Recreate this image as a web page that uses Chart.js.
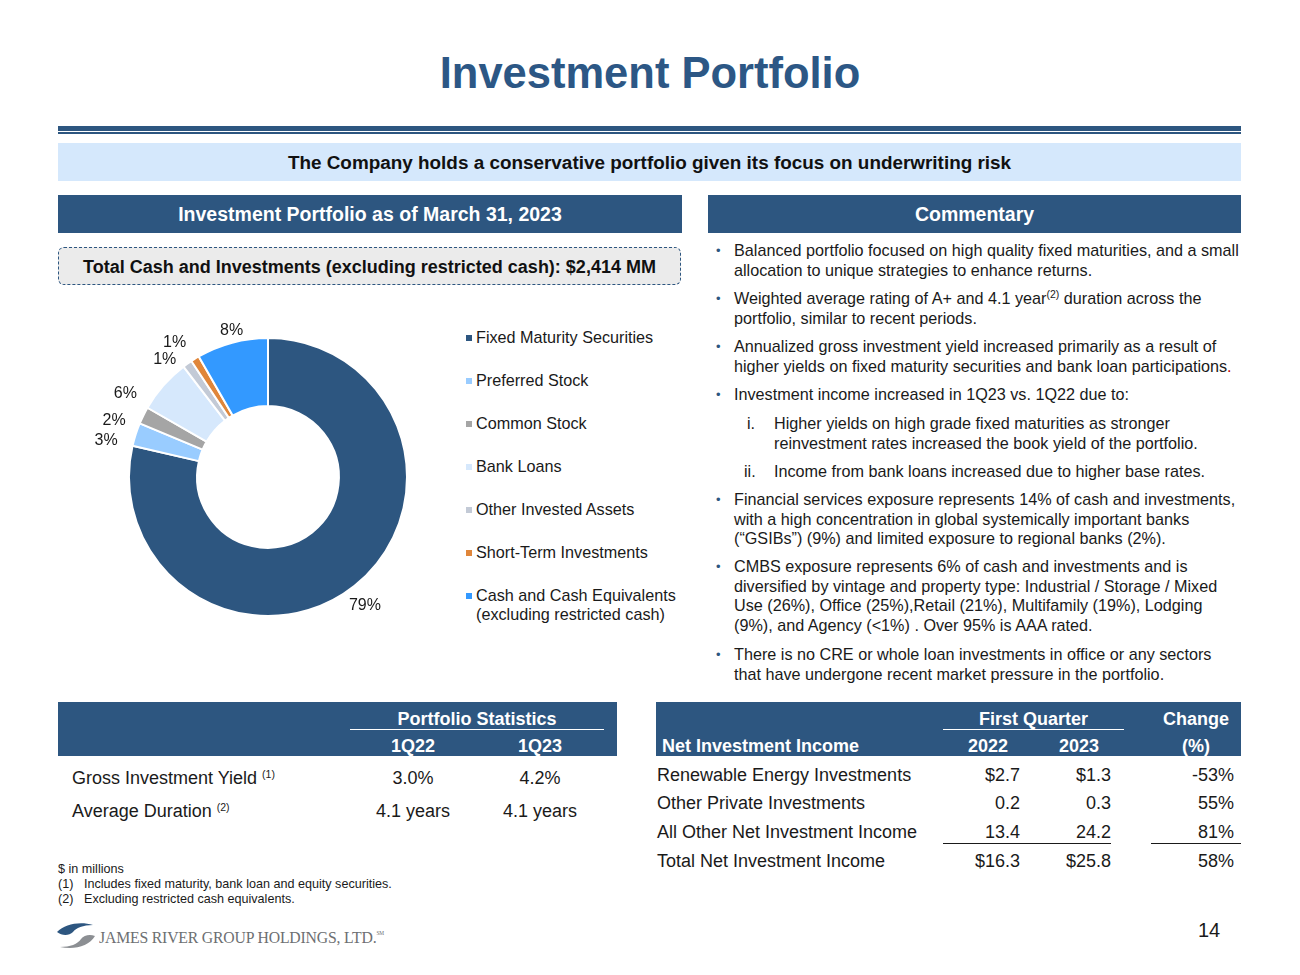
<!DOCTYPE html>
<html>
<head>
<meta charset="utf-8">
<title>Investment Portfolio</title>
<script src="https://cdn.jsdelivr.net/npm/chart.js@4.4.1/dist/chart.umd.min.js"></script>
<style>
    html, body { margin: 0; padding: 0; background: #fff; }
    body { width: 1300px; height: 975px; position: relative; overflow: hidden;
           font-family: "Liberation Sans", Arial, sans-serif; color: #1a1a1a; }
    .abs { position: absolute; white-space: nowrap; }
    .title { left: 0; width: 1300px; top: 48px; line-height: 50px; text-align: center;
             font-size: 43.5px; font-weight: bold; color: #2c5785; }
    .rule-thick { left: 58px; width: 1183px; top: 126px; height: 5px; background: #2d5680; }
    .rule-thin { left: 58px; width: 1183px; top: 132px; height: 2px; background: #2d5680; }
    .banner { left: 58px; width: 1183px; top: 143px; height: 38px; line-height: 40px; background: #d5e8fc;
              text-align: center; font-size: 18.9px; font-weight: bold; color: #111; }
    .hdr { top: 195px; height: 38px; line-height: 38px; background: #2d5680; color: #fff;
           text-align: center; font-size: 19.5px; font-weight: bold; }
    .totalbox { left: 58px; width: 621px; top: 247px; height: 36px; line-height: 38px; background: #ebebeb;
                border: 1.5px dashed #2d5680; border-radius: 6px; text-align: center;
                font-size: 18px; font-weight: bold; color: #111; }
    #chartWrap { position: absolute; left: 78px; top: 287px; width: 380px; height: 380px; }
    .legend { left: 466px; top: 328px; font-size: 16.2px; line-height: 19px; }
    .legend .item { position: relative; height: 43px; padding-left: 10px; }
    .legend .sw { position: absolute; left: 0; top: 7px; width: 6px; height: 6px; }
    .para { left: 716px; font-size: 16.2px; line-height: 19.5px; }
    .para .bul { position: absolute; left: 0; top: 0; color: #2d5680; font-size: 13px; }
    .para .txt { position: absolute; left: 18px; top: 0; }
    .para .num { position: absolute; top: 0; }
    sup { font-size: 10.5px; line-height: 0; vertical-align: 6px; }
    .tblhdr { top: 702px; height: 54px; background: #2d5680; }
    .wh { color: #fff; font-weight: bold; font-size: 18px; line-height: 20px; }
    .cell { font-size: 18px; line-height: 20px; }
    .uline { height: 1px; }
    .foot { font-size: 12.6px; line-height: 15px; }
    .logo-text { left: 99px; top: 926px; font-family: "Liberation Serif", "DejaVu Serif", serif;
                 font-size: 17.5px; line-height: 22px; color: #6d6f72; letter-spacing: -0.2px;
                 transform: scaleX(0.9); transform-origin: 0 0; }
    .pageno { left: 1198px; top: 918px; font-size: 20px; line-height: 24px; color: #1a1a1a; }
</style>
</head>
<body>

<div class="abs title">Investment Portfolio</div>
<div class="abs rule-thick"></div>
<div class="abs rule-thin"></div>
<div class="abs banner">The Company holds a conservative portfolio given its focus on underwriting risk</div>

<div class="abs hdr" style="left:58px;width:624px;">Investment Portfolio as of March 31, 2023</div>
<div class="abs hdr" style="left:708px;width:533px;">Commentary</div>

<div class="abs totalbox">Total Cash and Investments (excluding restricted cash): $2,414 MM</div>

<div id="chartWrap"><canvas id="portfolioChart"></canvas></div>
<div class="abs legend" id="legend"></div>

<!-- Commentary -->
<div class="abs para" style="top:241px;"><span class="bul">•</span><span class="txt">Balanced portfolio focused on high quality fixed maturities, and a small<br>allocation to unique strategies to enhance returns.</span></div>
<div class="abs para" style="top:289px;"><span class="bul">•</span><span class="txt">Weighted average rating of A+ and 4.1 year<sup>(2)</sup> duration across the<br>portfolio, similar to recent periods.</span></div>
<div class="abs para" style="top:337px;"><span class="bul">•</span><span class="txt">Annualized gross investment yield increased primarily as a result of<br>higher yields on fixed maturity securities and bank loan participations<span style="color:#c00000">.</span></span></div>
<div class="abs para" style="top:385px;"><span class="bul">•</span><span class="txt">Investment income increased in 1Q23 vs. 1Q22 due to:</span></div>
<div class="abs para" style="top:414px;"><span class="num" style="left:31px;">i.</span><span class="txt" style="left:58px;">Higher yields on high grade fixed maturities as stronger<br>reinvestment rates increased the book yield of the portfolio.</span></div>
<div class="abs para" style="top:462px;"><span class="num" style="left:28px;">ii.</span><span class="txt" style="left:58px;">Income from bank loans increased due to higher base rates.</span></div>
<div class="abs para" style="top:490px;"><span class="bul">•</span><span class="txt">Financial services exposure represents 14% of cash and investments,<br>with a high concentration in global systemically important banks<br>(“GSIBs”) (9%) and limited exposure to regional banks (2%).</span></div>
<div class="abs para" style="top:557px;"><span class="bul">•</span><span class="txt">CMBS exposure represents 6% of cash and investments and is<br>diversified by vintage and property type: Industrial / Storage / Mixed<br>Use (26%), Office (25%),Retail (21%), Multifamily (19%), Lodging<br>(9%), and Agency (&lt;1%) . Over 95% is AAA rated.</span></div>
<div class="abs para" style="top:645px;"><span class="bul">•</span><span class="txt">There is no CRE or whole loan investments in office or any sectors<br>that have undergone recent market pressure in the portfolio.</span></div>

<!-- Portfolio statistics table -->
<div class="abs tblhdr" style="left:58px;width:559px;"></div>
<div class="abs wh" style="left:350px;width:254px;top:709px;text-align:center;">Portfolio Statistics</div>
<div class="abs uline" style="left:350px;width:254px;top:729px;background:#fff;"></div>
<div class="abs wh" style="left:363px;width:100px;top:736px;text-align:center;">1Q22</div>
<div class="abs wh" style="left:490px;width:100px;top:736px;text-align:center;">1Q23</div>
<div class="abs cell" style="left:72px;top:768px;">Gross Investment Yield <sup>(1)</sup></div>
<div class="abs cell" style="left:363px;width:100px;top:768px;text-align:center;">3.0%</div>
<div class="abs cell" style="left:490px;width:100px;top:768px;text-align:center;">4.2%</div>
<div class="abs cell" style="left:72px;top:801px;">Average Duration <sup>(2)</sup></div>
<div class="abs cell" style="left:363px;width:100px;top:801px;text-align:center;">4.1 years</div>
<div class="abs cell" style="left:490px;width:100px;top:801px;text-align:center;">4.1 years</div>

<!-- Net investment income table -->
<div class="abs tblhdr" style="left:656px;width:585px;"></div>
<div class="abs wh" style="left:943px;width:181px;top:709px;text-align:center;">First Quarter</div>
<div class="abs uline" style="left:943px;width:181px;top:729px;background:#fff;"></div>
<div class="abs wh" style="left:1151px;width:90px;top:709px;text-align:center;">Change</div>
<div class="abs wh" style="left:1151px;width:90px;top:736px;text-align:center;">(%)</div>
<div class="abs wh" style="left:662px;top:736px;">Net Investment Income</div>
<div class="abs wh" style="left:948px;width:80px;top:736px;text-align:center;">2022</div>
<div class="abs wh" style="left:1039px;width:80px;top:736px;text-align:center;">2023</div>
<div id="niiRows"></div>
<div class="abs uline" style="left:943px;width:168px;top:843px;background:#1a1a1a;"></div>
<div class="abs uline" style="left:1151px;width:90px;top:843px;background:#1a1a1a;"></div>

<!-- Footnotes -->
<div class="abs foot" style="left:58px;top:862px;">$ in millions</div>
<div class="abs foot" style="left:58px;top:877px;">(1)</div>
<div class="abs foot" style="left:84px;top:877px;">Includes fixed maturity, bank loan and equity securities.</div>
<div class="abs foot" style="left:58px;top:892px;">(2)</div>
<div class="abs foot" style="left:84px;top:892px;">Excluding restricted cash equivalents.</div>

<!-- Logo -->
<svg class="abs" style="left:56px;top:921px;" width="40" height="30" viewBox="0 0 40 30">
    <path d="M1 11 C9 3, 24 0, 37 4 C27 4, 20 7, 17 11 C13 15, 6 15, 1 11 Z" fill="#2d5680"/>
    <path d="M39 15 C33 25, 19 29, 4 26 C14 26, 22 23, 25 18 C28 14, 34 13, 39 15 Z" fill="#8c8f93"/>
</svg>
<div class="abs logo-text">JAMES RIVER GROUP HOLDINGS, LTD.<sup style="font-size:6px;vertical-align:8px;">SM</sup></div>
<div class="abs pageno">14</div>

<script>
// Portfolio composition (share of total cash and investments, %)
const categories = [
    'Fixed Maturity Securities',
    'Preferred Stock',
    'Common Stock',
    'Bank Loans',
    'Other Invested Assets',
    'Short-Term Investments',
    'Cash and Cash Equivalents\n(excluding restricted cash)'
];
const shareValues = [78.6, 2.7, 2.0, 6.3, 1.1, 1.0, 8.3];
const sliceColors = ['#2d5680', '#99ccff', '#a5a5a5', '#d6e8fc', '#c3cad6', '#e0863a', '#3399ff'];

// Net investment income ($ in millions)
const niiLabels = ['Renewable Energy Investments', 'Other Private Investments', 'All Other Net Investment Income', 'Total Net Investment Income'];
const nii2022 = ['$2.7', '0.2', '13.4', '$16.3'];
const nii2023 = ['$1.3', '0.3', '24.2', '$25.8'];
const niiChange = ['-53%', '55%', '81%', '58%'];

// Build legend
const legendEl = document.getElementById('legend');
legendEl.innerHTML = categories.map((c, i) => `
    <div class="item"><span class="sw" style="background:${sliceColors[i]}"></span>${c.replace('\n', '<br>')}</div>
`).join('');

// Build NII rows
const rowTops = [765, 793, 822, 851];
document.getElementById('niiRows').innerHTML = niiLabels.map((label, i) => `
    <div class="abs cell" style="left:657px;top:${rowTops[i]}px;">${label}</div>
    <div class="abs cell" style="left:920px;width:100px;top:${rowTops[i]}px;text-align:right;">${nii2022[i]}</div>
    <div class="abs cell" style="left:1011px;width:100px;top:${rowTops[i]}px;text-align:right;">${nii2023[i]}</div>
    <div class="abs cell" style="left:1134px;width:100px;top:${rowTops[i]}px;text-align:right;">${niiChange[i]}</div>
`).join('');

// Percent labels outside each slice
const sliceLabels = {
    id: 'sliceLabels',
    afterDatasetsDraw(chart, args, opts) {
        const ctx = chart.ctx;
        const meta = chart.getDatasetMeta(0);
        ctx.save();
        ctx.font = '16px "Liberation Sans", Arial, sans-serif';
        ctx.fillStyle = '#1a1a1a';
        ctx.textAlign = 'center';
        ctx.textBaseline = 'middle';
        meta.data.forEach((arc, i) => {
            const mid = (arc.startAngle + arc.endAngle) / 2 + (opts.nudge[i] || 0) * Math.PI / 180;
            const r = arc.outerRadius + opts.offset[i];
            ctx.fillText(Math.round(shareValues[i]) + '%', arc.x + Math.cos(mid) * r, arc.y + Math.sin(mid) * r);
        });
        ctx.restore();
    }
};

new Chart(document.getElementById('portfolioChart'), {
    type: 'doughnut',
    data: {
        labels: categories,
        datasets: [{
            data: shareValues,
            backgroundColor: sliceColors,
            borderColor: '#ffffff',
            borderWidth: 2
        }]
    },
    options: {
        responsive: true,
        maintainAspectRatio: false,
        animation: false,
        cutout: '51%',
        layout: { padding: 50 },
        plugins: {
            legend: { display: false },
            tooltip: { enabled: false },
            sliceLabels: {
                nudge: [1.5, -5, -6, -11, -6, -3, 1],
                offset: [22, 27, 25, 26, 17, 25, 12]
            }
        }
    },
    plugins: [sliceLabels]
});
</script>
</body>
</html>
